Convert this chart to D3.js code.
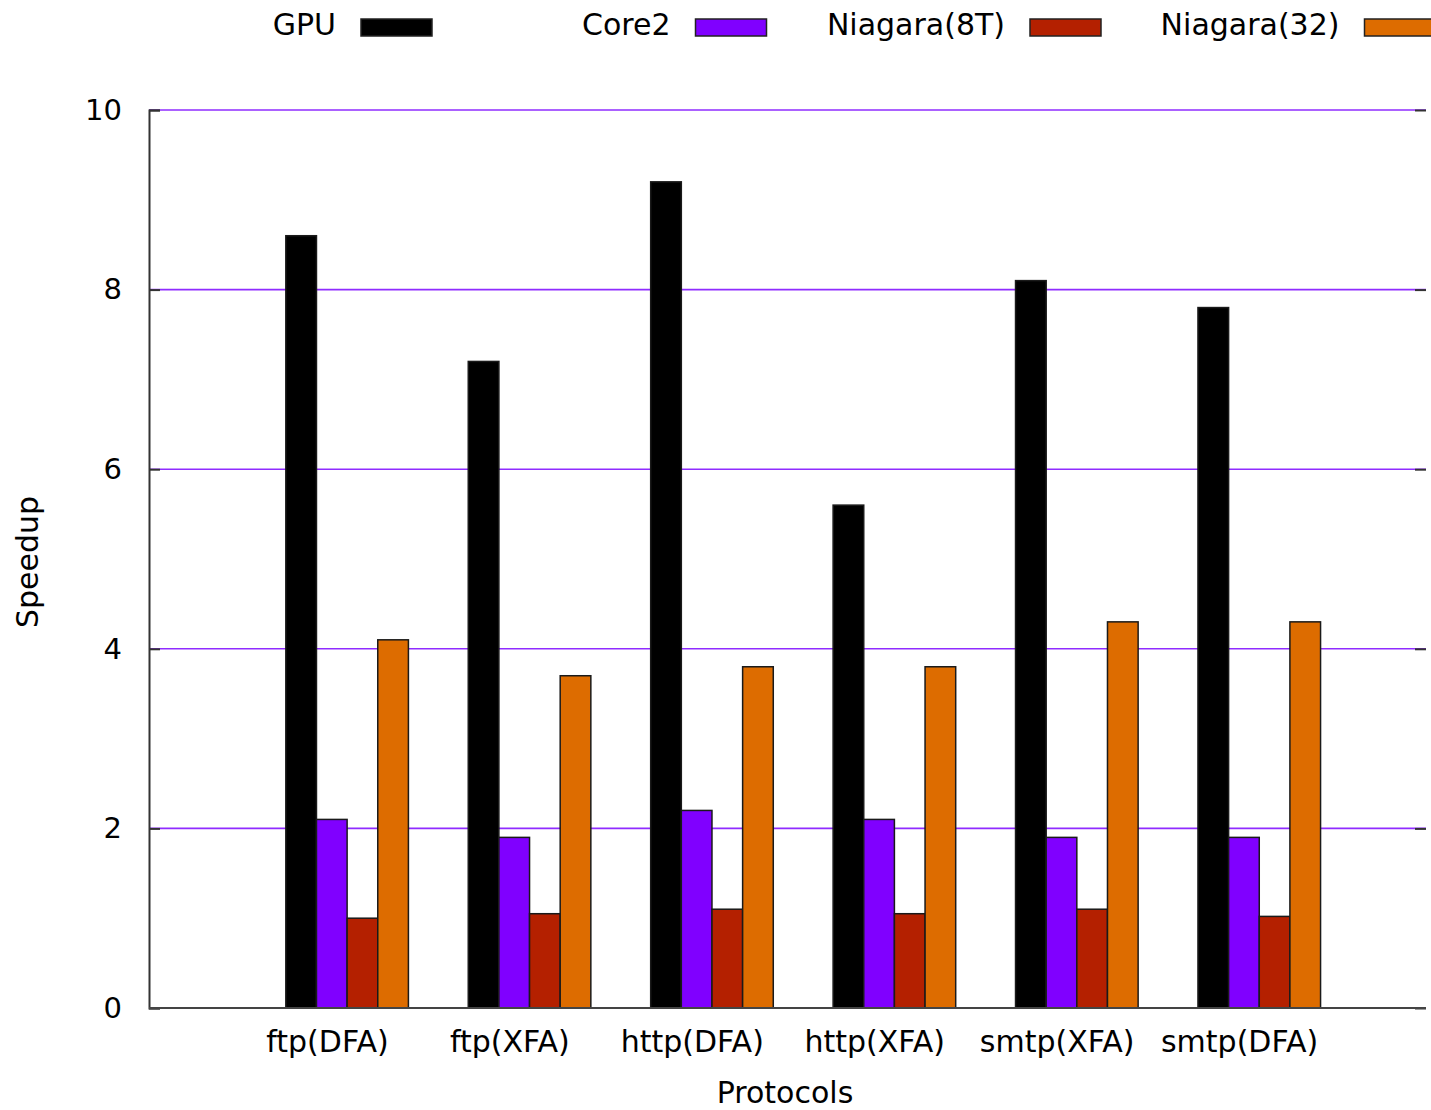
<!DOCTYPE html>
<html>
<head>
<meta charset="utf-8">
<script src="https://cdn.jsdelivr.net/npm/d3@7"></script>
<style>
  body { margin: 0; background: #fff; }
  svg { display: block; font-family: 'DejaVu Sans', sans-serif; }
</style>
</head>
<body>
<div id="chart"></div>
<script>
// categories and series
const protocols = ['ftp(DFA)', 'ftp(XFA)', 'http(DFA)', 'http(XFA)', 'smtp(XFA)', 'smtp(DFA)'];
const seriesNames = ['GPU', 'Core2', 'Niagara(8T)', 'Niagara(32)'];
const gpu = [8.6, 7.2, 9.2, 5.6, 8.1, 7.8];
const core2 = [2.1, 1.9, 2.2, 2.1, 1.9, 1.9];
const niagara8T = [1.0, 1.05, 1.1, 1.05, 1.1, 1.02];
const niagara32 = [4.1, 3.7, 3.8, 3.8, 4.3, 4.3];
const yTicks = [0, 2, 4, 6, 8, 10];

const seriesValues = [gpu, core2, niagara8T, niagara32];
const colors = ['#000000', '#8000ff', '#b42000', '#dd6c00'];

const width = 1431, height = 1110;
const margin = { left: 149, right: 5, top: 110, bottom: 102 };

const svg = d3.select('#chart')
  .append('svg')
  .attr('width', width)
  .attr('height', height);

// x runs from -1 to 6 like the original plot, one unit per protocol
const x = d3.scaleLinear()
  .domain([-1, protocols.length])
  .range([margin.left, width - margin.right]);

const y = d3.scaleLinear()
  .domain([0, 10])
  .range([height - margin.bottom, margin.top]);

const barW = 0.168;
const barStart = -0.25;

// grid lines
svg.append('g')
  .selectAll('line')
  .data(yTicks.filter(d => d > 0))
  .enter()
  .append('line')
  .attr('x1', x(-1))
  .attr('x2', x(protocols.length))
  .attr('y1', d => y(d))
  .attr('y2', d => y(d))
  .attr('stroke', '#8f2cff')
  .attr('stroke-width', 1.6);

// bars
const rows = [];
protocols.forEach((p, k) => {
  seriesValues.forEach((vals, i) => {
    rows.push({ k, i, value: vals[k] });
  });
});

svg.append('g')
  .selectAll('rect')
  .data(rows)
  .enter()
  .append('rect')
  .attr('x', d => x(d.k + barStart + d.i * barW))
  .attr('width', d => x(barW) - x(0))
  .attr('y', d => y(d.value))
  .attr('height', d => y(0) - y(d.value))
  .attr('fill', d => colors[d.i])
  .attr('stroke', '#1a1a1a')
  .attr('stroke-width', 1.5);

// left axis with inward ticks
const yAxisL = d3.axisLeft(y).tickValues(yTicks).tickSize(-11).tickPadding(27).tickFormat(d3.format('d'));
const gL = svg.append('g')
  .attr('transform', `translate(${margin.left},0)`)
  .call(yAxisL);
gL.select('.domain').attr('stroke', '#333').attr('stroke-width', 2);
gL.selectAll('.tick line').attr('stroke', '#333').attr('stroke-width', 2);
gL.selectAll('.tick text')
  .attr('font-size', 29)
  .attr('fill', '#000')
  .attr('font-family', 'DejaVu Sans');

// right mirror ticks, no spine
const gR = svg.append('g')
  .attr('transform', `translate(${x(protocols.length)},0)`)
  .call(d3.axisRight(y).tickValues(yTicks).tickSize(-11).tickFormat(''));
gR.select('.domain').remove();
gR.selectAll('.tick line').attr('stroke', '#333').attr('stroke-width', 2);

// bottom axis line
svg.append('line')
  .attr('x1', x(-1))
  .attr('x2', x(protocols.length))
  .attr('y1', y(0))
  .attr('y2', y(0))
  .attr('stroke', '#444')
  .attr('stroke-width', 2);

// category labels
svg.append('g')
  .selectAll('text')
  .data(protocols)
  .enter()
  .append('text')
  .attr('x', (d, k) => x(k) - 4)
  .attr('y', 1052)
  .attr('text-anchor', 'middle')
  .attr('font-size', 30)
  .text(d => d);

// axis titles
svg.append('text')
  .attr('x', 785)
  .attr('y', 1103)
  .attr('text-anchor', 'middle')
  .attr('font-size', 30)
  .text('Protocols');

svg.append('text')
  .attr('transform', 'translate(38,562) rotate(-90)')
  .attr('text-anchor', 'middle')
  .attr('font-size', 30)
  .text('Speedup');

// legend
const legendStep = 334.5;
const legend = svg.append('g')
  .selectAll('g')
  .data(seriesNames)
  .enter()
  .append('g')
  .attr('transform', (d, i) => `translate(${336 + i * legendStep},0)`);

legend.append('text')
  .attr('x', 0)
  .attr('y', 35)
  .attr('text-anchor', 'end')
  .attr('font-size', 30)
  .text(d => d);

legend.append('rect')
  .attr('x', 25)
  .attr('y', 19)
  .attr('width', 71)
  .attr('height', 17)
  .attr('fill', (d, i) => colors[i])
  .attr('stroke', '#222')
  .attr('stroke-width', 1.5);
</script>
</body>
</html>
